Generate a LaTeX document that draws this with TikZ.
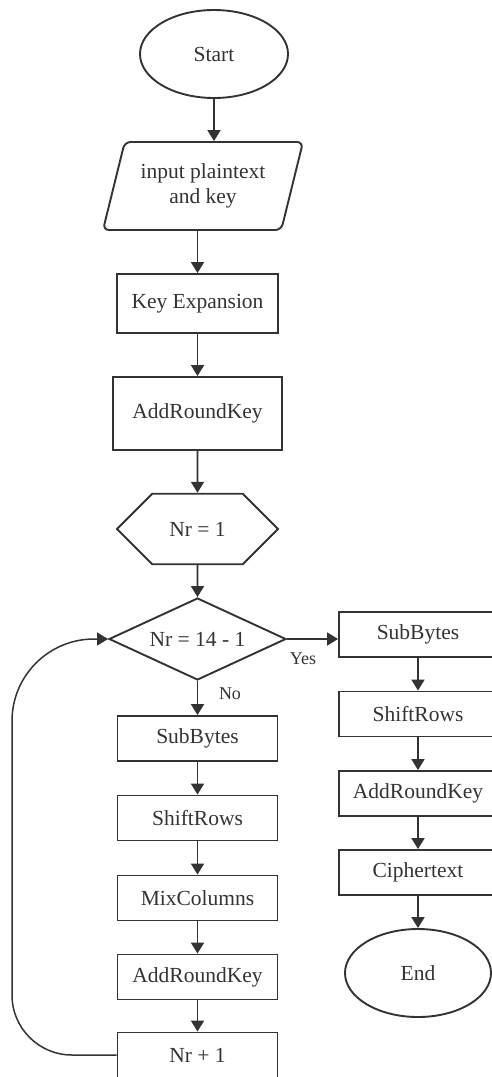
\documentclass[tikz,border=0pt]{standalone}
\usepackage{fontspec}
\setmainfont{Liberation Serif}
\usetikzlibrary{arrows.meta,shapes.geometric,shapes.misc}

\begin{document}
\begin{tikzpicture}[x=1pt, y=-1pt,
    font=\fontsize{21.5}{25}\selectfont,
    base/.style={draw=black!80, line width=1.9pt, align=center, inner sep=0pt,
      text=black!80},
    term/.style={base, ellipse, minimum width=148pt, minimum height=88pt},
    io/.style={base, trapezium, trapezium left angle=64, trapezium right angle=116,
      trapezium stretches body, rounded corners=6pt,
      minimum width=200pt, minimum height=88pt},
    proc/.style={base, rectangle, minimum width=160pt, minimum height=45pt},
    prep/.style={base, chamfered rectangle, chamfered rectangle xsep=37pt,
      chamfered rectangle ysep=34pt, minimum width=161pt, minimum height=68pt},
    cond/.style={base, diamond, aspect=2.16, minimum width=177pt, minimum height=82pt},
    lbl/.style={font=\fontsize{18}{21}\selectfont, text=black!80},
    flow/.style={draw=black!80, line width=1.9pt, -{Triangle[width=13pt,length=11pt]}}
  ]
  \clip (0,0) rectangle (492,1077);

  % setup
  \node[term] (start) at (214,54) {Start};
  \node[io] (inp) at (203,186) {input plaintext\\and key};
  \node[proc, minimum width=161pt, minimum height=59pt] (keyexp) at (197.5,303.5) {Key Expansion};
  \node[proc, minimum width=169pt, minimum height=73pt] (ark0) at (197.5,413.5) {AddRoundKey};
  \node[prep] (init) at (197.5,529) {Nr = 1};
  \node[cond] (test) at (197.5,639) {Nr = 14 - 1};

  % round loop
  \node[proc] (sbL) at (197.5,738.5) {SubBytes};
  \node[proc] (srL) at (197.5,818) {ShiftRows};
  \node[proc] (mcL) at (197.5,898) {MixColumns};
  \node[proc] (arkL) at (197.5,977) {AddRoundKey};
  \node[proc] (inc) at (197.5,1055) {Nr + 1};

  % final round
  \node[proc, minimum width=158pt] (sbR) at (418,634.5) {SubBytes};
  \node[proc, minimum width=158pt] (srR) at (418,714) {ShiftRows};
  \node[proc, minimum width=158pt] (arkR) at (418,793.5) {AddRoundKey};
  \node[proc, minimum width=158pt] (ct) at (418,872.5) {Ciphertext};
  \node[term, minimum width=146pt] (stop) at (418,973) {End};

  \node[lbl] (yes) at (303,659) {Yes};
  \node[lbl] (no) at (230,694) {No};

  \draw[flow] (start.south) -- (start.south |- inp.north);
  \draw[flow] (inp.south -| keyexp.north) -- (keyexp.north);
  \draw[flow] (keyexp) -- (ark0);
  \draw[flow] (ark0) -- (init);
  \draw[flow] (init) -- (test);
  \draw[flow] (test.east) -- (test.east -| sbR.west);
  \draw[flow] (test) -- (sbL);
  \draw[flow] (sbL) -- (srL);
  \draw[flow] (srL) -- (mcL);
  \draw[flow] (mcL) -- (arkL);
  \draw[flow] (arkL) -- (inc);
  \draw[flow] (sbR) -- (srR);
  \draw[flow] (srR) -- (arkR);
  \draw[flow] (arkR) -- (ct);
  \draw[flow] (ct) -- (stop);

  \coordinate (lb) at (12,1055);
  \coordinate (lt) at (12,639);
  \draw[flow, line width=1.5pt] (inc.west) [rounded corners=60pt] -- (lb) [rounded corners=82pt] -- (lt) -- (test.west);
\end{tikzpicture}
\end{document}
